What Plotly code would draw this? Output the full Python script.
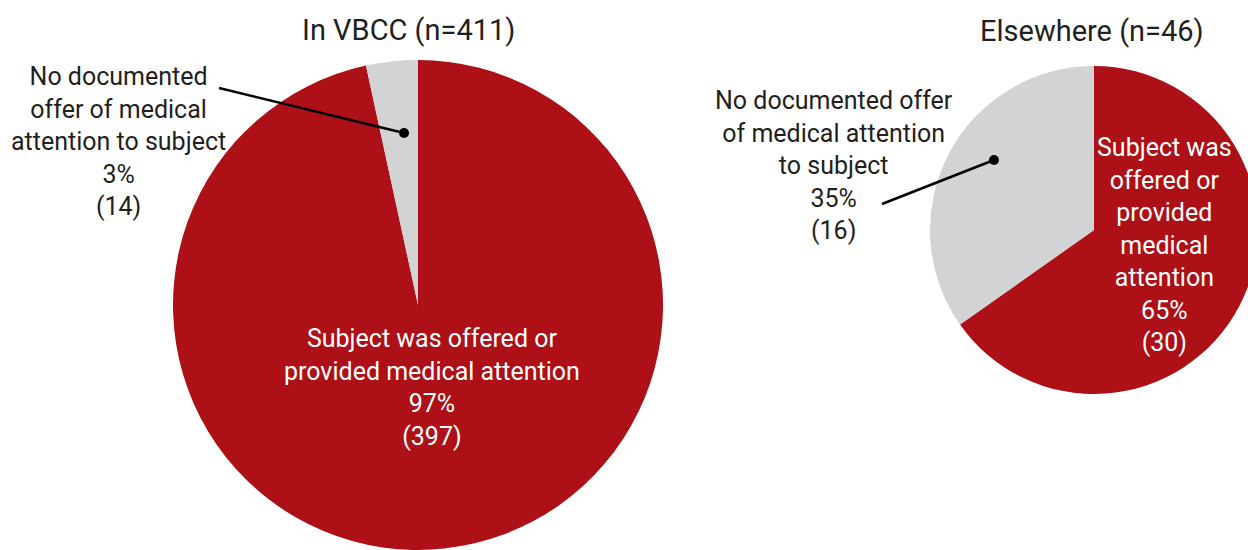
import plotly.graph_objects as go

# Outcome categories and counts for each location
categories = ["Subject was offered or provided medical attention",
              "No documented offer of medical attention to subject"]
vbcc_counts = [397, 14]
elsewhere_counts = [30, 16]

titles = ["In VBCC", "Elsewhere"]

RED = "#AD1016"
GREY = "#D1D3D4"
INK = "#231F20"
FONT = "Roboto"

W, H = 1268, 550  # canvas a bit wider than the viewport so the right pie bleeds off the edge


def px(x):
    return x / W


def py(y):
    return 1 - y / H


def pct(counts, i):
    return round(counts[i] / sum(counts) * 100)


fig = go.Figure()

pie_style = dict(
    sort=False, direction="clockwise", rotation=0,
    textinfo="none", hoverinfo="skip", showlegend=False,
    marker=dict(colors=[RED, GREY], line=dict(width=0)),
)

fig.add_trace(go.Pie(labels=categories, values=vbcc_counts,
                     domain=dict(x=[px(173), px(663)], y=[py(550), py(60)]),
                     **pie_style))
fig.add_trace(go.Pie(labels=categories, values=elsewhere_counts,
                     domain=dict(x=[px(930), px(1258)], y=[py(394), py(66)]),
                     **pie_style))

ann = []


def add_text(x, y, text, color, size=25):
    ann.append(dict(x=px(x), y=py(y), xref="paper", yref="paper", text=text,
                    showarrow=False, xanchor="center", yanchor="middle",
                    align="center", font=dict(family=FONT, size=size, color=color)))


# titles
add_text(408, 30, f"{titles[0]} (n={sum(vbcc_counts)})", INK, 29)
add_text(1092, 31, f"{titles[1]} (n={sum(elsewhere_counts)})", INK, 29)

# slice labels, left pie
add_text(432, 387,
         f"Subject was offered or<br>provided medical attention<br>"
         f"{pct(vbcc_counts, 0)}%<br>({vbcc_counts[0]})", "white")
add_text(118, 141,
         f"No documented<br>offer of medical<br>attention to subject<br>"
         f"{pct(vbcc_counts, 1)}%<br>({vbcc_counts[1]})", INK)

# slice labels, right pie
add_text(1164, 245,
         f"Subject was<br>offered or<br>provided<br>medical<br>attention<br>"
         f"{pct(elsewhere_counts, 0)}%<br>({elsewhere_counts[0]})", "white")
add_text(834, 166,
         f"No documented offer<br>of medical attention<br>to subject<br>"
         f"{pct(elsewhere_counts, 1)}%<br>({elsewhere_counts[1]})", INK)

# leader lines with dot ends
shapes = []
for (x0, y0, x1, y1) in [(219, 88, 404, 133), (882, 204, 994, 160)]:
    shapes.append(dict(type="line", xref="paper", yref="paper",
                       x0=px(x0), y0=py(y0), x1=px(x1), y1=py(y1),
                       line=dict(color="black", width=2.5)))
    r = 5
    shapes.append(dict(type="circle", xref="paper", yref="paper",
                       x0=px(x1 - r), x1=px(x1 + r), y0=py(y1 + r), y1=py(y1 - r),
                       fillcolor="black", line=dict(width=0)))

fig.update_layout(
    width=W, height=H, autosize=False,
    margin=dict(l=0, r=0, t=0, b=0),
    paper_bgcolor="white", plot_bgcolor="white",
    annotations=ann, shapes=shapes,
)

fig.write_html("out.html", config={"displayModeBar": False},
               post_script="document.documentElement.style.overflow='hidden';"
                           "document.body.style.overflow='hidden';")
